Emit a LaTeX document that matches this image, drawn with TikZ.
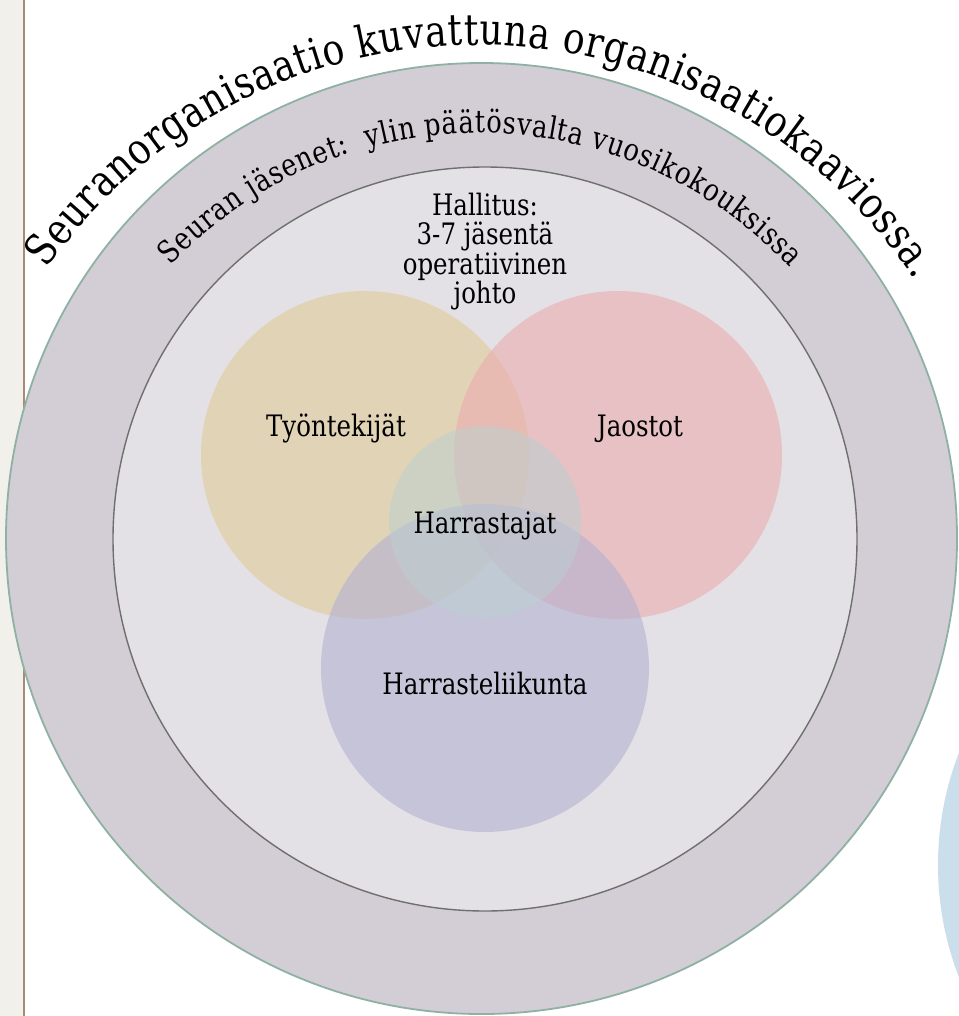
\documentclass[tikz,border=0pt]{standalone}
\usepackage{fontspec}
\setmainfont{DejaVu Serif}[FakeStretch=0.83]
\usetikzlibrary{decorations.text}
\definecolor{stripbg}{HTML}{F1F0EB}
\definecolor{stripline}{HTML}{A98A76}
\definecolor{outerfill}{HTML}{D3CED5}
\definecolor{outerline}{HTML}{8EB1A3}
\definecolor{innerfill}{HTML}{E3E1E5}
\definecolor{innerline}{HTML}{6F6F6F}
\definecolor{tanc}{HTML}{E1CB97}
\definecolor{pinkc}{HTML}{EBACAE}
\definecolor{purplec}{HTML}{B4B1D1}
\definecolor{smallc}{HTML}{B9D0D2}
\definecolor{bluec}{HTML}{CBDEEC}
\newcommand\myouterfont{\fontsize{43.5}{50}\selectfont}
\newcommand\mybandfont{\fontsize{31}{36}\selectfont}
\begin{document}
\begin{tikzpicture}[x=1pt,y=1pt,
  ring/.style={circle, inner sep=0pt, outer sep=0pt},
  venn/.style={ring, fill opacity=0.6},
  lbl/.style={font=\fontsize{29.5}{29.5}\selectfont, inner sep=0pt, anchor=base, text=black}]
\useasboundingbox (0,0) rectangle (958,-1016);
\fill[white] (0,0) rectangle (958,-1016);
\fill[stripbg] (0,0) rectangle (23,-1016);
\draw[stripline, line width=2.3pt] (24,0) -- (24,-1016);
% blue circle at right edge
\node[ring, fill=bluec, minimum size=620pt] (blue) at (1248,-865) {};
% outer and inner rings
\node[ring, fill=outerfill, draw=outerline, line width=1.8pt, minimum size=951pt] (outer) at (481.5,-538.5) {};
\node[ring, fill=innerfill, draw=innerline, line width=1.4pt, minimum size=744pt] (inner) at (485,-539) {};
% venn circles
\node[venn, fill=tanc, minimum size=328pt] (tyo) at (365,-455) {};
\node[venn, fill=pinkc, minimum size=328pt] (jao) at (618,-455) {};
\node[venn, fill=purplec, minimum size=328pt] (har) at (485,-668) {};
\node[ring, fill=smallc, fill opacity=0.5, minimum size=192pt] (hst) at (485,-522) {};
% labels
\node[lbl] (ltyo) at (336,-436) {Työntekijät};
\node[lbl] (ljao) at (640,-436) {Jaostot};
\node[lbl] (lhst) at (485,-533) {Harrastajat};
\node[lbl] (lhar) at (485,-694) {Harrasteliikunta};
\node[font=\fontsize{29.5}{29.3}\selectfont, inner sep=0pt, align=center, anchor=north] (hall) at (485,-193) {Hallitus:\\3-7 jäsentä\\operatiivinen\\johto};
% curved texts
\path[decorate, decoration={text along path, text align=fit to path,
  text={|\mybandfont|Seuran jäsenet:\ \ ylin päätösvalta vuosikokouksissa}}]
  (479,-559) ++(136.4:426) arc[start angle=136.4, end angle=43.1, radius=426];
\path[decorate, decoration={text along path, text align=fit to path,
  text={|\myouterfont|Seuranorganisaatio kuvattuna organisaatiokaaviossa.}}]
  (477,-570) ++(145:525) arc[start angle=145, end angle=33.5, radius=525];
\end{tikzpicture}
\end{document}
